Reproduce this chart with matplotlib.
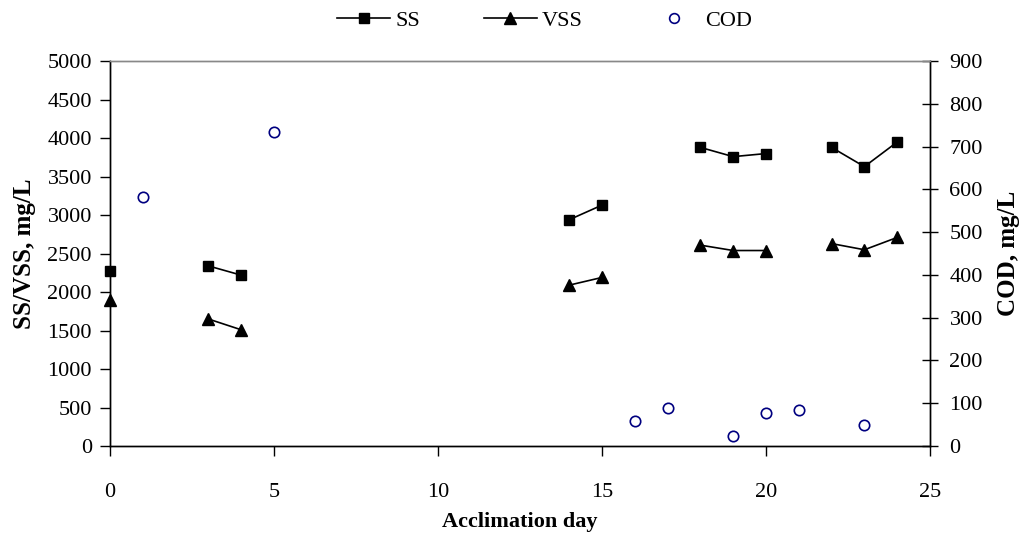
import numpy as np
import matplotlib
matplotlib.use("Agg")
import matplotlib.pyplot as plt
from matplotlib.lines import Line2D

# ── data ─────────────────────────────────────────────────────────────────────
# NaN entries break the connecting line between sampling runs
ss_days = [0, np.nan, 3, 4, np.nan, 14, 15, np.nan, 18, 19, 20, np.nan, 22, 23, 24]
ss_vals = [2280, np.nan, 2340, 2220, np.nan, 2940, 3130, np.nan, 3880, 3760, 3800, np.nan, 3880, 3630, 3950]

vss_days = [0, np.nan, 3, 4, np.nan, 14, 15, np.nan, 18, 19, 20, np.nan, 22, 23, 24]
vss_vals = [1900, np.nan, 1650, 1510, np.nan, 2090, 2190, np.nan, 2610, 2540, 2540, np.nan, 2630, 2550, 2710]

cod_days = [1, 5, 16, 17, 19, 20, 21, 23]
cod_vals = [583, 735, 58, 89, 24, 76, 85, 50]

plt.rcParams["font.family"] = ["Liberation Serif", "DejaVu Serif"]

fig = plt.figure(figsize=(10.24, 5.37), dpi=100)
ax = fig.add_axes([0.1074, 0.1695, 0.8008, 0.7165])
ax2 = ax.twinx()

ax.plot(ss_days, ss_vals, color="black", lw=1.2, marker="s", ms=7.5, clip_on=False, zorder=3)
ax.plot(vss_days, vss_vals, color="black", lw=1.2, marker="^", ms=9, clip_on=False, zorder=3)
ax2.plot(cod_days, cod_vals, ls="none", marker="o", ms=7.5, mfc="white",
         mec="#000080", mew=1.2, clip_on=False)

ax.set_xlim(0, 25)
ax.set_ylim(0, 5000)
ax2.set_ylim(0, 900)
ax.set_xticks([0, 5, 10, 15, 20, 25])
ax.set_yticks(np.arange(0, 5001, 500))
ax2.set_yticks(np.arange(0, 901, 100))

ax.tick_params(axis="x", direction="out", length=7, width=1, pad=20, labelsize=16)
ax.tick_params(axis="y", direction="out", length=7, width=1, pad=6, labelsize=16)
ax2.tick_params(axis="y", direction="inout", length=12, width=1, pad=8, labelsize=16)

for a in (ax, ax2):
    for s in a.spines.values():
        s.set_linewidth(1)
ax.spines["top"].set_color("#888888")
ax2.spines["top"].set_color("#888888")

ax.set_xlabel("Acclimation day", fontsize=16, fontweight="bold", labelpad=7)
ax.set_ylabel("SS/VSS, mg/L", fontsize=18, fontweight="bold", labelpad=8)
ax2.set_ylabel("COD, mg/L", fontsize=18, fontweight="bold", labelpad=10)

handles = [
    Line2D([], [], color="black", lw=1.2, marker="s", ms=7.5),
    Line2D([], [], color="black", lw=1.2, marker="^", ms=9),
    Line2D([], [], ls="none", marker="o", ms=7, mfc="white", mec="#000080", mew=1.2),
]
fig.legend(handles, ["SS", "VSS", "COD"], loc="upper center", bbox_to_anchor=(0.532, 1.018),
           ncol=3, frameon=False, fontsize=16, handlelength=2.35, columnspacing=2.9,
           handletextpad=0.25)

plt.savefig("out.png", dpi=100)
